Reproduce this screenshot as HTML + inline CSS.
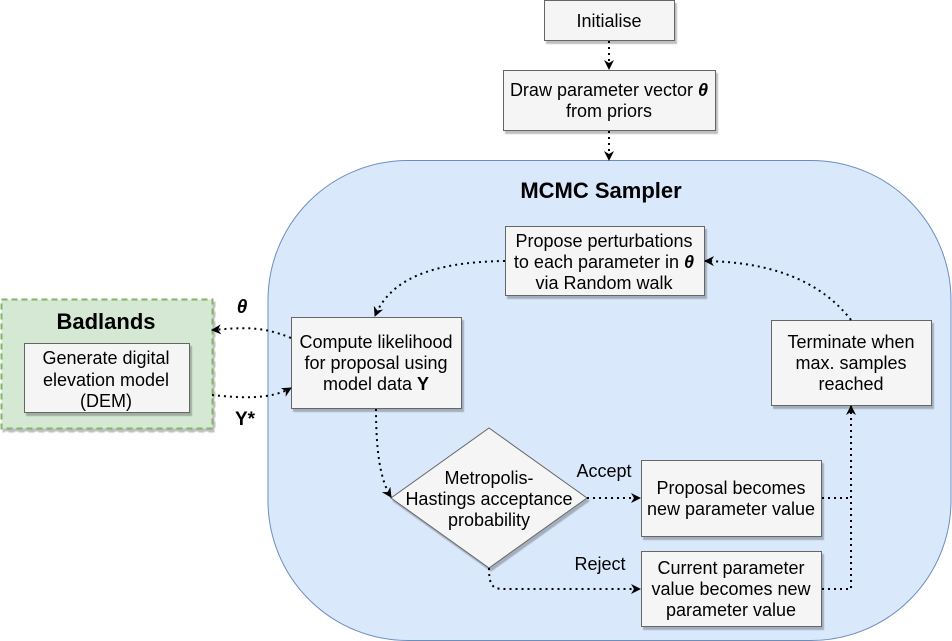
<!DOCTYPE html>
<html><head><meta charset="utf-8"><style>
html,body{margin:0;padding:0;background:#fff;}
svg{display:block;font-family:"Liberation Sans",sans-serif;}
</style></head><body>
<svg width="952" height="641" viewBox="0 0 952 641" xmlns="http://www.w3.org/2000/svg">
<defs>
<marker id="a" viewBox="0 0 10 10" refX="9" refY="5" markerWidth="10" markerHeight="10" markerUnits="userSpaceOnUse" orient="auto">
<path d="M0,0 L10,5 L0,10 L3,5 Z" fill="#000"/></marker>
<filter id="s" x="-10%" y="-10%" width="130%" height="130%"><feDropShadow dx="2" dy="3" stdDeviation="0.5" flood-color="#000" flood-opacity="0.25"/></filter>
</defs>
<rect x="268" y="160.5" width="683" height="480" rx="140" ry="140" fill="#dae8fc" stroke="#6c8ebf" stroke-width="1"/>
<text x="601" y="198" text-anchor="middle" font-size="22" font-weight="bold">MCMC Sampler</text>
<rect x="1.5" y="299.5" width="211" height="129" fill="#d5e8d4" stroke="#82b366" stroke-width="2" stroke-dasharray="6 4" filter="url(#s)"/>
<text x="106" y="329" text-anchor="middle" font-size="22" font-weight="bold">Badlands</text>
<g fill="#f5f5f5" stroke="#666" stroke-width="1" filter="url(#s)">
<rect x="24.5" y="343.5" width="165" height="69"/>
<rect x="544.5" y="0.5" width="130" height="40"/>
<rect x="503.5" y="70.5" width="212" height="60"/>
<rect x="505.5" y="226.5" width="199" height="69"/>
<rect x="291.5" y="317.5" width="170" height="91"/>
<rect x="771.5" y="320.5" width="160" height="85"/>
<rect x="641.5" y="460.5" width="180" height="76"/>
<rect x="641.5" y="551.5" width="180" height="75"/>
<polygon points="489,428 587,498 489,568 391,498"/>
</g>
<g font-size="18" text-anchor="middle" fill="#000">
<text x="106" y="364">Generate digital</text>
<text x="106" y="386">elevation model</text>
<text x="106" y="407">(DEM)</text>
<text x="609" y="27">Initialise</text>
<text x="609" y="96">Draw parameter vector <tspan font-weight="bold" font-style="italic">θ</tspan></text>
<text x="609" y="117">from priors</text>
<text x="604" y="247">Propose perturbations</text>
<text x="604" y="268">to each parameter in <tspan font-weight="bold" font-style="italic">θ</tspan></text>
<text x="604" y="289">via Random walk</text>
<text x="376" y="348">Compute likelihood</text>
<text x="376" y="369">for proposal using</text>
<text x="376" y="390">model data <tspan font-weight="bold">Y</tspan></text>
<text x="851" y="348">Terminate when</text>
<text x="851" y="369">max. samples</text>
<text x="851" y="390">reached</text>
<text x="731" y="494">Proposal becomes</text>
<text x="731" y="515">new parameter value</text>
<text x="731" y="574">Current parameter</text>
<text x="731" y="595">value becomes new</text>
<text x="731" y="616">parameter value</text>
<text x="489" y="484">Metropolis-</text>
<text x="489" y="505">Hastings acceptance</text>
<text x="489" y="526">probability</text>
<text x="604" y="477">Accept</text>
<text x="600" y="570">Reject</text>
</g>
<text x="242" y="313" font-size="19" font-weight="bold" font-style="italic" text-anchor="middle">θ</text>
<text x="245" y="425" font-size="19" font-weight="bold" text-anchor="middle">Y*</text>
<g stroke="#000" stroke-width="2" stroke-dasharray="2 4" fill="none" marker-end="url(#a)">
<path d="M609,41 L609,69"/>
<path d="M609,131 L609,160"/>
<path d="M505,261 C430,262 390,280 375,316"/>
<path d="M851,320 C820,280 770,262 705,261"/>
<path d="M291,338 C260,325 240,328 212,330"/>
<path d="M212,395 C240,398 270,400 291,388"/>
<path d="M376,409 C376,450 380,480 391,497"/>
<path d="M587,498 L640,498"/>
<path d="M489,568 C489,590 495,589 510,589 L640,589"/>
<path d="M822,589 L851,589 L851,406"/>
</g>
<path d="M822,498 L851,498" stroke="#000" stroke-width="2" stroke-dasharray="2 4" fill="none"/>
</svg>
</body></html>
